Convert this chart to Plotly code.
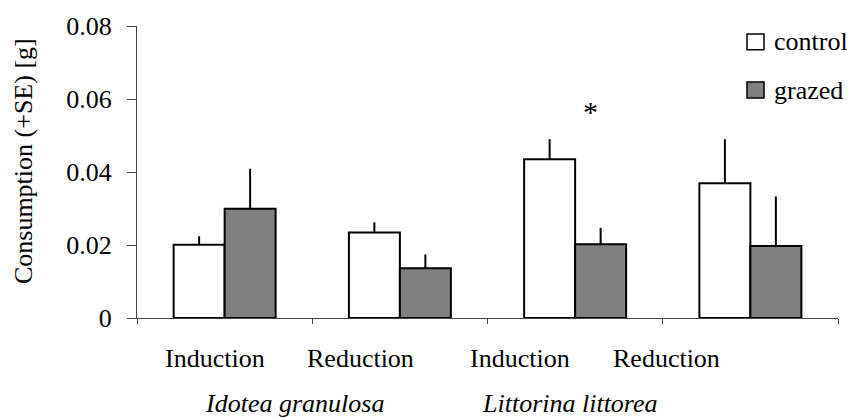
import plotly.graph_objects as go

# ---- data ----
categories = ["Idotea Induction", "Idotea Reduction", "Littorina Induction", "Littorina Reduction"]
tick_labels = ["Induction", "Reduction", "Induction", "Reduction"]
group_labels = ["Idotea granulosa", "Littorina littorea"]
control = [0.0201, 0.0234, 0.0435, 0.0369]
control_se = [0.0023, 0.0028, 0.0055, 0.0121]
grazed = [0.0299, 0.0136, 0.0202, 0.0197]
grazed_se = [0.0110, 0.0038, 0.0045, 0.0136]
series_names = ["control", "grazed"]
y_ticks = [0, 0.02, 0.04, 0.06, 0.08]
y_tick_text = ["0", "0.02", "0.04", "0.06", "0.08"]

W, H = 855, 418
L, R, T, B = 137, 17, 24, 100
PW, PH = W - L - R, H - T - B

def px_x(p):
    return (p - L) / PW

def px_y(p):
    return (H - B - p) / PH

FONT = "Liberation Serif"
FS = 26

fig = go.Figure()
fig.add_trace(go.Bar(
    x=categories, y=control, name=series_names[0],
    marker=dict(color="white", line=dict(color="black", width=2)),
    error_y=dict(type="data", array=control_se, symmetric=False,
                 arrayminus=[0] * len(control), color="black", thickness=2, width=0),
))
fig.add_trace(go.Bar(
    x=categories, y=grazed, name=series_names[1],
    marker=dict(color="#808080", line=dict(color="black", width=2)),
    error_y=dict(type="data", array=grazed_se, symmetric=False,
                 arrayminus=[0] * len(grazed), color="black", thickness=2, width=0),
))

annotations = []
label_px = [215, 360, 520, 666]
for lab, p in zip(tick_labels, label_px):
    annotations.append(dict(x=px_x(p), y=px_y(359), xref="paper", yref="paper",
                            text=lab, showarrow=False, xanchor="center", yanchor="middle",
                            font=dict(family=FONT, size=FS, color="black")))
group_px = [294, 570]
for lab, p in zip(group_labels, group_px):
    annotations.append(dict(x=px_x(p), y=px_y(404), xref="paper", yref="paper",
                            text="<i>%s</i>" % lab, showarrow=False, xanchor="center", yanchor="middle",
                            font=dict(family=FONT, size=FS, color="black")))
annotations.append(dict(x=px_x(23), y=px_y(160), xref="paper", yref="paper",
                        text="Consumption (+SE) [g]", textangle=-90, showarrow=False,
                        xanchor="center", yanchor="middle",
                        font=dict(family=FONT, size=FS, color="black")))
annotations.append(dict(x=2.085, y=0.0565, xref="x", yref="y", text="*", showarrow=False,
                        xanchor="center", yanchor="middle",
                        font=dict(family=FONT, size=30, color="black")))

shapes = []
legend_fill = ["white", "#808080"]
legend_cy = [40, 88.5]
for name, fill, cy in zip(series_names, legend_fill, legend_cy):
    shapes.append(dict(type="rect", xref="paper", yref="paper",
                       x0=px_x(747), x1=px_x(764), y0=px_y(cy + 8), y1=px_y(cy - 8),
                       fillcolor=fill, line=dict(color="black", width=1.5)))
    annotations.append(dict(x=px_x(772), y=px_y(cy), xref="paper", yref="paper",
                            text=name, showarrow=False, xanchor="left", yanchor="middle",
                            font=dict(family=FONT, size=FS, color="black")))

fig.update_layout(
    width=W, height=H,
    margin=dict(l=L, r=R, t=T, b=B, pad=0),
    paper_bgcolor="white", plot_bgcolor="white",
    barmode="group", bargap=0.418, bargroupgap=0,
    showlegend=False,
    font=dict(family=FONT, size=FS, color="black"),
    annotations=annotations, shapes=shapes,
)
fig.update_xaxes(
    type="category", categoryorder="array", categoryarray=categories,
    range=[-0.5, 3.5], showticklabels=False,
    showline=True, linecolor="#444", linewidth=1.2,
    ticks="outside", tickson="boundaries", ticklen=5, tickcolor="#444", tickwidth=1.2,
    showgrid=False, zeroline=False,
)
fig.update_yaxes(
    range=[0, 0.08], tickvals=y_ticks, ticktext=y_tick_text,
    showline=True, linecolor="#444", linewidth=1.2,
    ticks="outside", ticklen=9, tickcolor="#444", tickwidth=1.2,
    showgrid=False, zeroline=False, ticklabelstandoff=10,
    tickfont=dict(family=FONT, size=FS, color="black"),
)

fig.write_html("out.html")
